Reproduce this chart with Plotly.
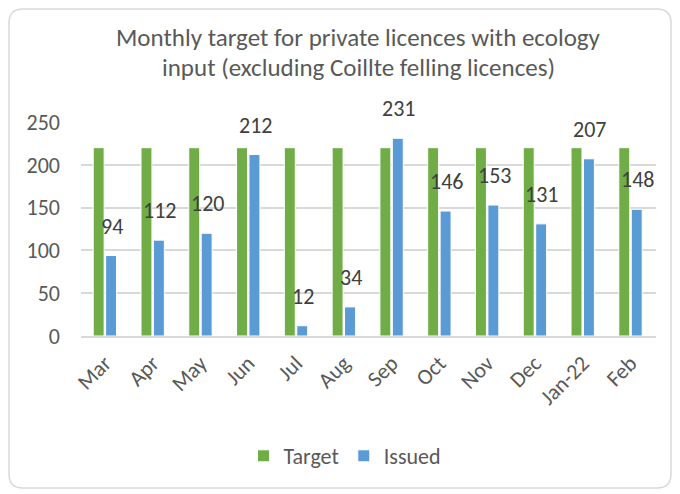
import plotly.graph_objects as go

months = ["Mar", "Apr", "May", "Jun", "Jul", "Aug", "Sep", "Oct", "Nov", "Dec", "Jan-22", "Feb"]
target = [220, 220, 220, 220, 220, 220, 220, 220, 220, 220, 220, 220]
issued = [94, 112, 120, 212, 12, 34, 231, 146, 153, 131, 207, 148]
y_ticks = [0, 50, 100, 150, 200, 250]
title_lines = ["Monthly target for private licences with ecology",
               "input (excluding Coillte felling licences)"]

FONT = "Carlito, Lato, 'Open Sans', sans-serif"
TXT = "#595959"

# page has 8px body margin: figure drawn at offset (8, 8)
W, H = 672, 486
L, R, T, B = 73, 24, 114, 158
pw, ph = W - L - R, H - T - B

def px_to_paper(x, y):
    return (x - L) / pw, (H - B - y) / ph

fig = go.Figure()
fig.add_trace(go.Bar(name="Target", x=months, y=target,
                     marker=dict(color="#70AD47", line=dict(color="white", width=1))))
fig.add_trace(go.Bar(name="Issued", x=months, y=issued,
                     marker=dict(color="#5B9BD5", line=dict(color="white", width=1))))

for m, v in zip(months, issued):
    fig.add_annotation(x=m, y=v, xref="x", yref="y", text=str(v), showarrow=False,
                       xanchor="center", yanchor="bottom", xshift=7, yshift=14,
                       font=dict(size=22, color="#404040", family=FONT))

# title lines
for i, line in enumerate(title_lines):
    xp, yp = px_to_paper(350, 30 + 29 * i)
    fig.add_annotation(x=xp, y=yp, xref="paper", yref="paper", text=line, showarrow=False,
                       xanchor="center", yanchor="middle",
                       font=dict(size=25, color=TXT, family=FONT))

# rounded border
x0, y0, x1, y1, r = 1, 1, 663, 480, 14
def P(x, y):
    a, b = px_to_paper(x, y)
    return f"{a:.5f},{b:.5f}"
path = (f"M {P(x0 + r, y0)} L {P(x1 - r, y0)} Q {P(x1, y0)} {P(x1, y0 + r)} "
        f"L {P(x1, y1 - r)} Q {P(x1, y1)} {P(x1 - r, y1)} "
        f"L {P(x0 + r, y1)} Q {P(x0, y1)} {P(x0, y1 - r)} "
        f"L {P(x0, y0 + r)} Q {P(x0, y0)} {P(x0 + r, y0)} Z")
fig.add_shape(type="path", path=path, xref="paper", yref="paper",
              line=dict(color="#D9D9D9", width=1.5), layer="below")

fig.update_layout(
    width=W, height=H,
    margin=dict(l=L, r=R, t=T, b=B),
    paper_bgcolor="white", plot_bgcolor="white",
    font=dict(family=FONT, color=TXT),
    barmode="group", bargap=0.48, bargroupgap=0.12,
    showlegend=True,
    legend=dict(orientation="h", x=px_to_paper(337, 0)[0], xanchor="center", y=px_to_paper(0, 448)[1],
                yanchor="middle", font=dict(size=22, color=TXT, family=FONT), itemwidth=30,
                traceorder="normal"),
    xaxis=dict(tickangle=-45, tickfont=dict(size=22, color=TXT, family=FONT), showline=True,
               linecolor="#D9D9D9", linewidth=1.5, ticks="", showgrid=False, ticklabelstandoff=4),
    yaxis=dict(range=[0, 250], tickvals=y_ticks, tickfont=dict(size=22, color=TXT, family=FONT),
               showgrid=True, gridcolor="#D9D9D9", gridwidth=1.5, zeroline=False, showline=False,
               ticks="", ticklabelstandoff=20),
)
fig.write_html("out.html")
